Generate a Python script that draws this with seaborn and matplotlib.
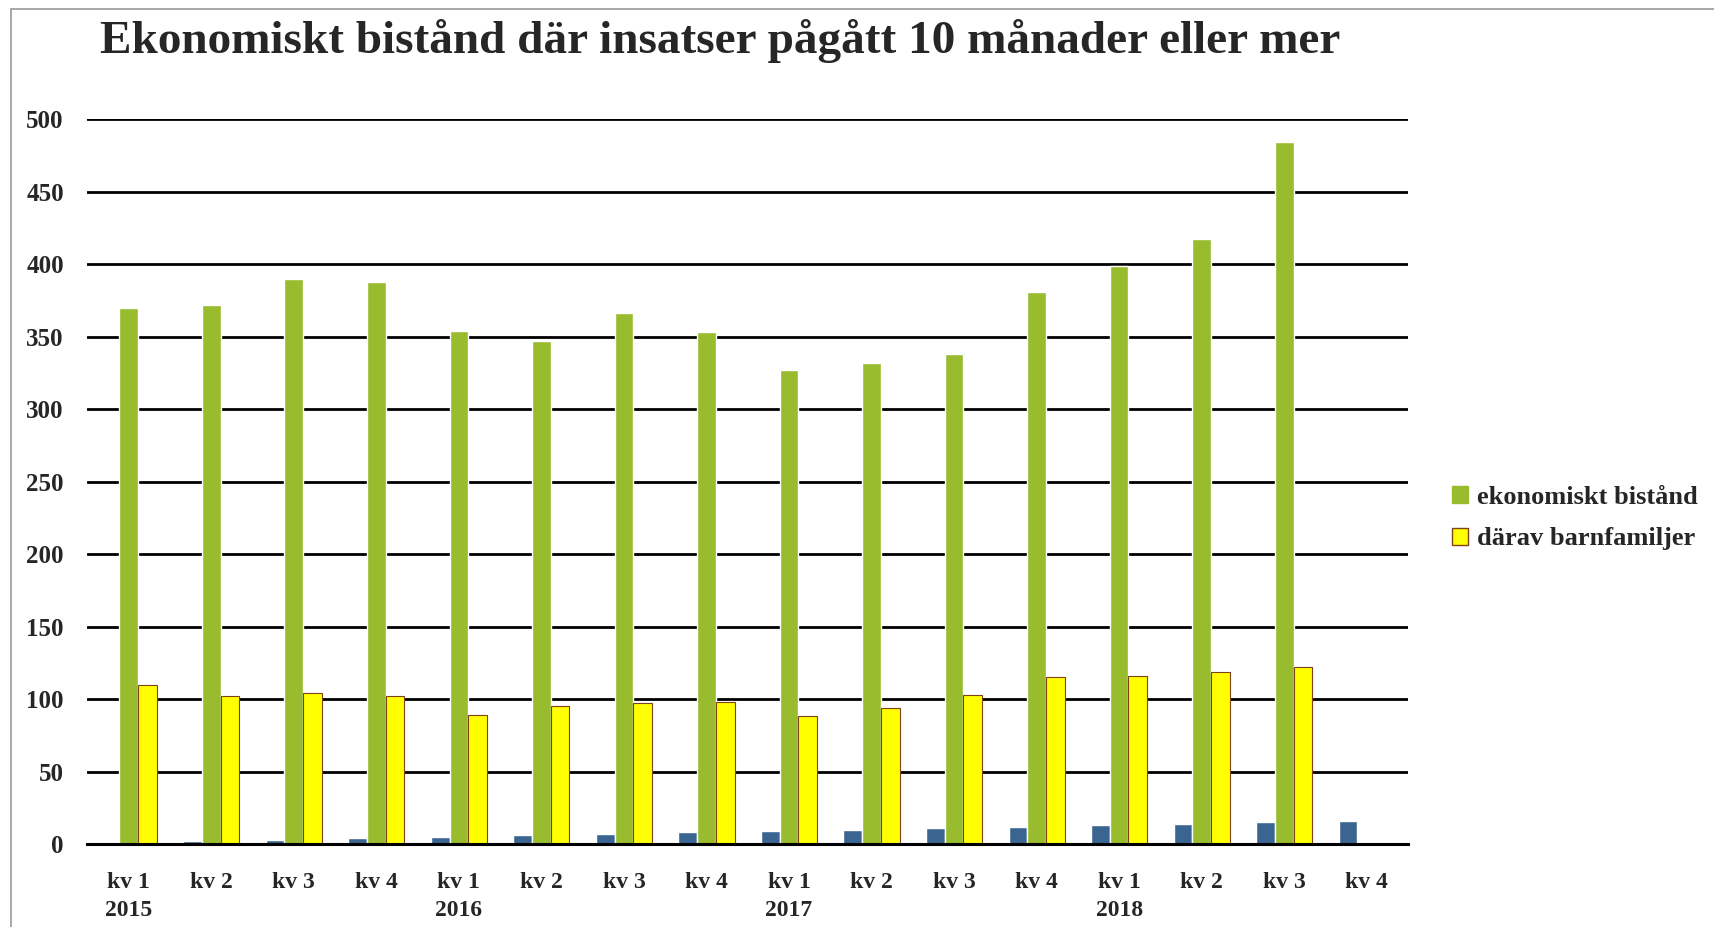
import numpy as np
import pandas as pd
import matplotlib
matplotlib.use("Agg")
import matplotlib.pyplot as plt
import seaborn as sns
from matplotlib.patches import Patch, Rectangle

quarters = ["kv 1", "kv 2", "kv 3", "kv 4"] * 4
years = ["2015"] * 4 + ["2016"] * 4 + ["2017"] * 4 + ["2018"] * 4
lopnummer = [1, 2, 3, 4, 5, 6, 7, 8, 9, 10, 11, 12, 13, 14, 15, 16]
ekonomiskt = [370, 372, 390, 388, 354, 347, 366, 353, 327, 332, 338, 381, 399, 417, 484, np.nan]
barnfamiljer = [110, 102, 104, 102, 89, 95, 97, 98, 88, 94, 103, 115, 116, 119, 122, np.nan]

series = ["löpnummer", "ekonomiskt bistånd", "därav barnfamiljer"]
colors = ["#3A6591", "#99BB2E", "#FFFF00"]
edge_yellow = "#80401A"

ids = [f"{y} {q}" for y, q in zip(years, quarters)]
df = pd.DataFrame({
    "period": ids * 3,
    "serie": [series[0]] * 16 + [series[1]] * 16 + [series[2]] * 16,
    "antal": lopnummer + ekonomiskt + barnfamiljer,
})

sns.set_style("white")
plt.rcParams["font.family"] = ["Liberation Serif", "DejaVu Serif"]
plt.rcParams["font.weight"] = "bold"

fig = plt.figure(figsize=(17.15, 9.27), dpi=100)
ax = fig.add_axes([0.051, 0.0895, 0.770, 0.782])

sns.barplot(data=df, x="period", y="antal", hue="serie", order=ids,
            hue_order=series, palette=colors, width=0.68, saturation=1,
            ax=ax, legend=False)

# yellow bars get a thin brown edge
for bar in ax.containers[2]:
    bar.set_edgecolor(edge_yellow)
    bar.set_linewidth(0.8)

ax.set_ylim(0, 500)
ax.set_xlim(-0.5, 15.5)
ax.set_yticks(range(0, 501, 50))
ax.yaxis.grid(True, color="black", linewidth=2)
ax.set_axisbelow(True)
for s in ["left", "right", "top"]:
    ax.spines[s].set_visible(False)
ax.spines["bottom"].set_color("black")
ax.spines["bottom"].set_linewidth(2.2)
ax.spines["bottom"].set_zorder(5)

labels = [q + "\n" + y if q == "kv 1" else q for q, y in zip(quarters, years)]
ax.set_xticks(range(16))
ax.set_xticklabels(labels, fontsize=17, fontweight="bold", linespacing=1.45, va="top")
ax.tick_params(axis="x", which="major", length=0, pad=20)
ax.set_xticks(np.arange(-0.5, 16, 1), minor=True)
ax.tick_params(axis="x", which="minor", length=10, width=1.5, color="black", direction="out")
ax.tick_params(axis="y", length=0, labelsize=18, pad=17)
for t in ax.get_yticklabels():
    t.set_fontweight("bold")
ax.set_xlabel("")
ax.set_ylabel("")

handles = [Patch(facecolor=colors[1], edgecolor=colors[1]),
           Patch(facecolor=colors[2], edgecolor=edge_yellow, linewidth=1)]
fig.legend(handles, series[1:], loc="center left", bbox_to_anchor=(0.833, 0.441),
           bbox_transform=fig.transFigure, frameon=False,
           prop={"weight": "bold", "size": 19}, handlelength=0.6, handleheight=0.6,
           handletextpad=0.35, labelspacing=0.7)

fig.text(0.42, 0.956, "Ekonomiskt bistånd där insatser pågått 10 månader eller mer",
         ha="center", va="center", fontsize=34, fontweight="bold")

fig.patches.append(Rectangle((11 / 1715, -0.1), 1.2, 1 - 9 / 927 + 0.1,
                             transform=fig.transFigure, fill=False,
                             edgecolor="#999999", linewidth=1.2))

fig.savefig("out.png", dpi=100)
